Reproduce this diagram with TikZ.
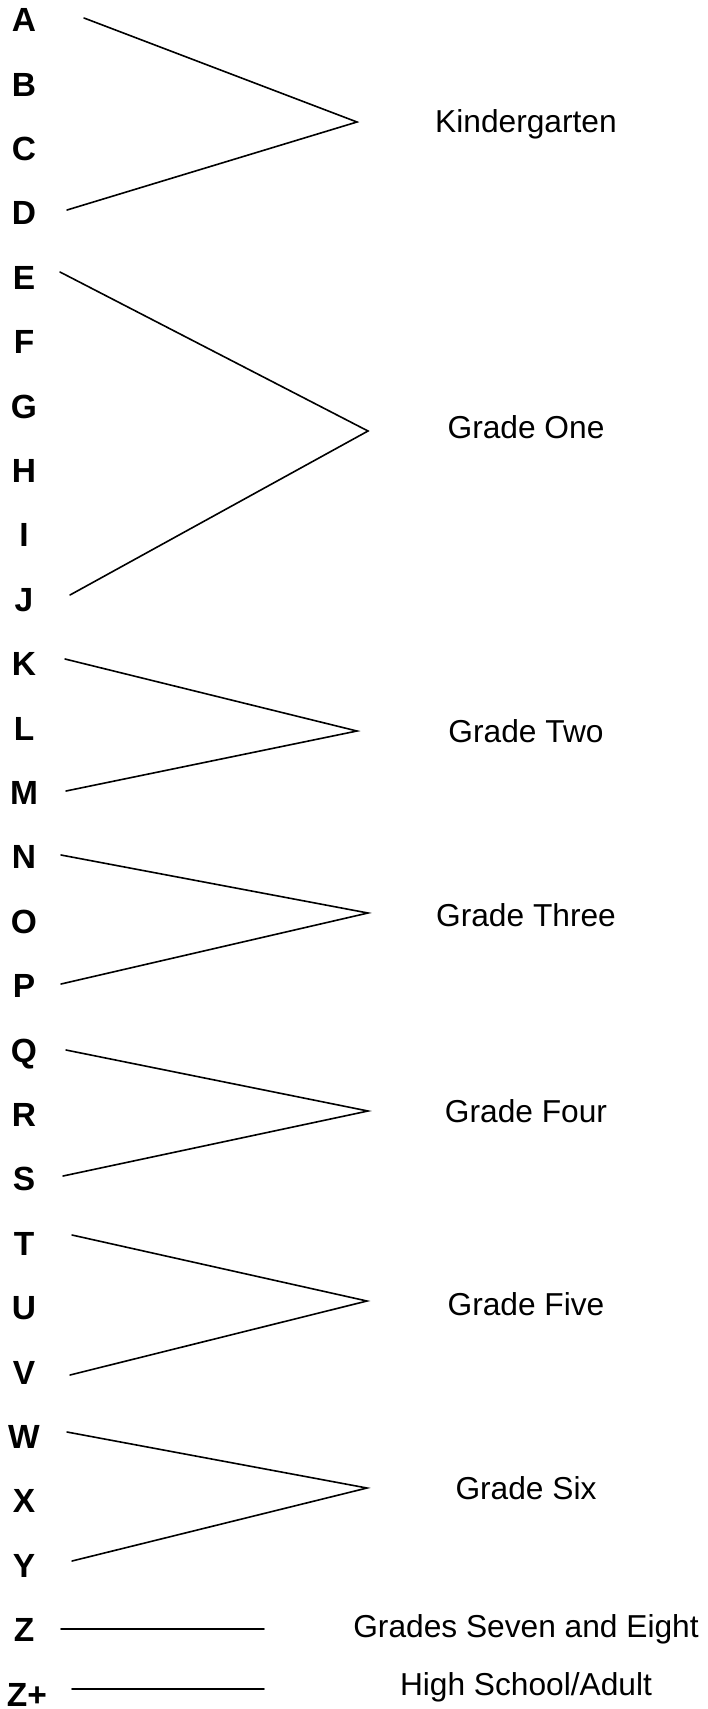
\documentclass[tikz,border=0pt]{standalone}
\usepackage{fontspec}
\setmainfont{Liberation Sans}
\usetikzlibrary{positioning}
\tikzset{
  letter/.style={font=\fontsize{33.5}{40}\selectfont\bfseries, inner sep=0pt, anchor=base},
  grade/.style={font=\fontsize{31.7}{38}\selectfont, inner sep=0pt, anchor=base},
  link/.style={line width=1.6pt, line cap=round},
}

\begin{document}
\begin{tikzpicture}[x=1pt, y=-1pt]
  \useasboundingbox (0,0) rectangle (708,1709);

  % Letters
  \foreach \l [count=\i from 0] in {A,B,C,D,E,F,G,H,I,J,K,L,M,N,O,P,Q,R,S,T,U,V,W,X,Y,Z}
    \node[letter] (\l) at (24, 31.6+64.4*\i) {\l};
  \node[letter] (Zp) at (27, 1706) {Z+};

  % Grade labels
  \node[grade] (kg)    at (526, 132) {Kindergarten};
  \node[grade] (one)   at (526, 438) {Grade One};
  \node[grade] (two)   at (526, 742) {Grade Two};
  \node[grade] (three) at (526, 926) {Grade Three};
  \node[grade] (four)  at (526, 1122) {Grade Four};
  \node[grade] (five)  at (526, 1315) {Grade Five};
  \node[grade] (six)   at (526, 1499) {Grade Six};
  \node[grade] (seven) at (526, 1637) {Grades Seven and Eight};
  \node[grade] (high)  at (526, 1695) {High School/Adult};

  % Line ends beside the letters
  \coordinate (kgA) at (84,18);    \coordinate (kgD) at (67,210);
  \coordinate (oneE) at (60,272);  \coordinate (oneJ) at (70,595);
  \coordinate (twoK) at (65,659);  \coordinate (twoM) at (66,791);
  \coordinate (thrN) at (61,855);  \coordinate (thrP) at (61,984);
  \coordinate (fouQ) at (66,1050); \coordinate (fouS) at (63,1176);
  \coordinate (fivT) at (72,1235); \coordinate (fivV) at (70,1375);
  \coordinate (sixW) at (67,1432); \coordinate (sixY) at (72,1561);
  \coordinate (sevZ) at (61,1629); \coordinate (higZ) at (72,1689);

  % Meeting points
  \coordinate (kgtip)  at (357,122);
  \coordinate (onetip) at (368,431);
  \coordinate (twotip) at (357,731);
  \coordinate (thrtip) at (368,913);
  \coordinate (foutip) at (368,1111);
  \coordinate (fivtip) at (367,1301);
  \coordinate (sixtip) at (367,1488);
  \coordinate (sevend) at (264,1629);
  \coordinate (higend) at (264,1689);

  % Connectors
  \draw[link] (kgA) -- (kgtip) -- (kgD);
  \draw[link] (oneE) -- (onetip) -- (oneJ);
  \draw[link] (twoK) -- (twotip) -- (twoM);
  \draw[link] (thrN) -- (thrtip) -- (thrP);
  \draw[link] (fouQ) -- (foutip) -- (fouS);
  \draw[link] (fivT) -- (fivtip) -- (fivV);
  \draw[link] (sixW) -- (sixtip) -- (sixY);
  \draw[link] (sevZ) -- (sevend);
  \draw[link] (higZ) -- (higend);
\end{tikzpicture}
\end{document}
